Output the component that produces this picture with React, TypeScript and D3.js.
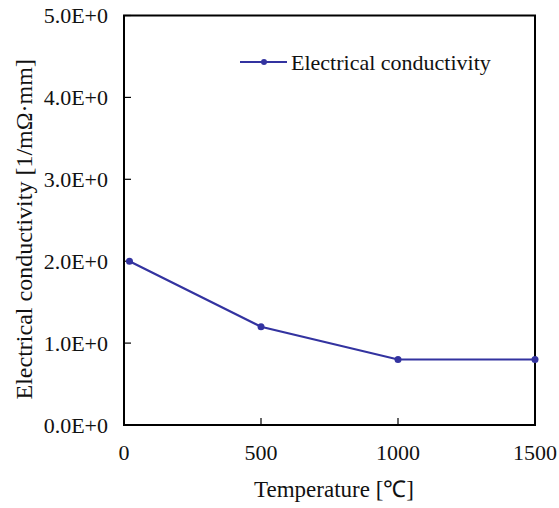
import React from "react";
import * as d3 from "d3";

const temperatures = [20, 500, 1000, 1500];
const conductivity = [2.0, 1.2, 0.8, 0.8];
const xTicks = [0, 500, 1000, 1500];
const yTicks = [0, 1, 2, 3, 4, 5];
const seriesName = "Electrical conductivity";
const xTitle = "Temperature [\u2103]";
const yTitle = "Electrical conductivity [1/m\u03A9\u00B7mm]";

const W = 559;
const H = 508;
const M = { left: 124, right: 24, top: 15.5, bottom: 83 };
const FONT = "'Liberation Serif', 'Times New Roman', serif";
const COLOR = "#3333a0";

export default function App() {
  const x = d3.scaleLinear().domain([0, 1500]).range([M.left, W - M.right]);
  const y = d3.scaleLinear().domain([0, 5]).range([H - M.bottom, M.top]);
  const line = d3
    .line<number>()
    .x((_, i) => x(temperatures[i]))
    .y((d) => y(d));
  const fmt = (v: number) => v.toFixed(1) + "E+0";
  const [x0, x1] = x.range();
  const [y0, y1] = y.range();
  return (
    <svg
      width={W}
      height={H}
      style={{ position: "absolute", left: 0, top: 0, background: "#fff" }}
      fontFamily={FONT}
    >
      <rect x={0} y={0} width={W} height={H} fill="#fff" />
      {yTicks.map((t) => (
        <g key={"y" + t}>
          <line x1={x0} x2={x0 + 7} y1={y(t)} y2={y(t)} stroke="#000" strokeWidth={1.2} />
          <text x={x0 - 16} y={y(t)} dy="0.35em" textAnchor="end" fontSize={22} fill="#111">
            {fmt(t)}
          </text>
        </g>
      ))}
      {xTicks.map((t) => (
        <g key={"x" + t}>
          <line x1={x(t)} x2={x(t)} y1={y0} y2={y0 - 7} stroke="#000" strokeWidth={1.2} />
          <text x={x(t)} y={y0 + 35} textAnchor="middle" fontSize={22} fill="#111">
            {t}
          </text>
        </g>
      ))}
      <rect
        x={x0}
        y={y1}
        width={x1 - x0}
        height={y0 - y1}
        fill="none"
        stroke="#000"
        strokeWidth={2}
      />
      <path d={line(conductivity) || ""} fill="none" stroke={COLOR} strokeWidth={2.2} />
      {conductivity.map((v, i) => (
        <circle key={i} cx={x(temperatures[i])} cy={y(v)} r={3.5} fill={COLOR} />
      ))}
      <g>
        <line x1={240} x2={287} y1={62} y2={62} stroke={COLOR} strokeWidth={2.2} />
        <circle cx={264} cy={62} r={3} fill={COLOR} />
        <text x={291} y={62} dy="0.35em" fontSize={22} fill="#111">
          {seriesName}
        </text>
      </g>
      <text x={334} y={H - 11} textAnchor="middle" fontSize={23} fill="#111">
        {xTitle}
      </text>
      <text
        transform={`translate(32, ${(y0 + y1) / 2 + 9}) rotate(-90)`}
        textAnchor="middle"
        fontSize={24}
        fill="#111"
      >
        {yTitle}
      </text>
    </svg>
  );
}
